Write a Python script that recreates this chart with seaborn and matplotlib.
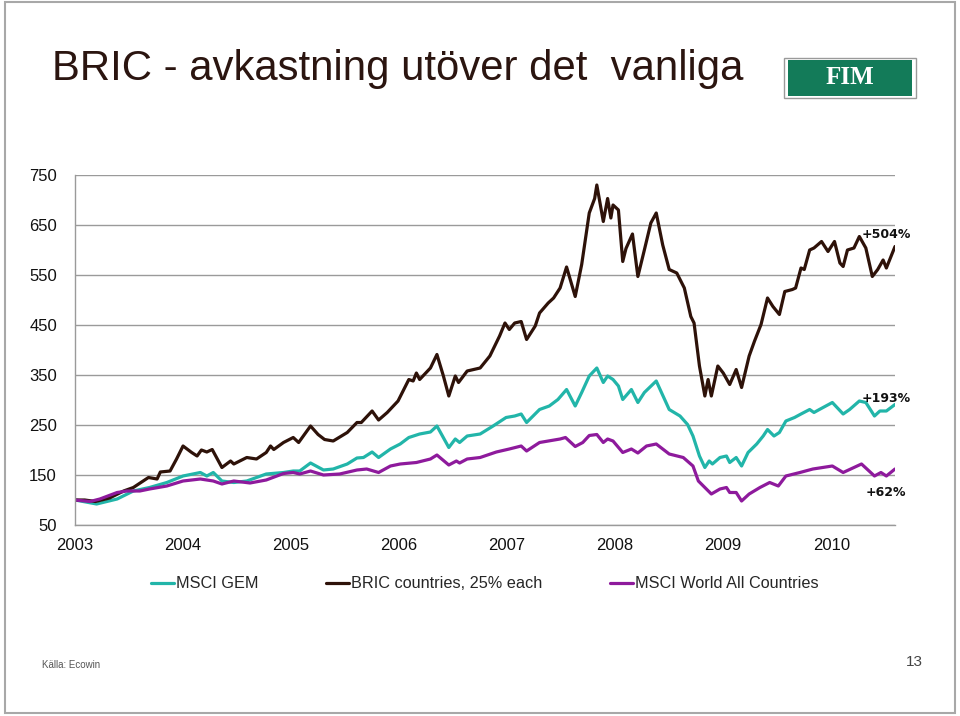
import pandas as pd
import numpy as np
import matplotlib
matplotlib.use("Agg")
import matplotlib.pyplot as plt
import seaborn as sns
from matplotlib.patches import Rectangle

# values (decimal year, index level, start = 100)
bric_t = [2003.00, 2003.09, 2003.19, 2003.32, 2003.45, 2003.54, 2003.68, 2003.76, 2003.79, 2003.88,
          2003.94, 2004.00, 2004.08, 2004.13, 2004.17, 2004.22, 2004.27, 2004.31, 2004.36, 2004.44,
          2004.47, 2004.59, 2004.68, 2004.77, 2004.81, 2004.84, 2004.93, 2005.02, 2005.07, 2005.18,
          2005.25, 2005.31, 2005.39, 2005.52, 2005.61, 2005.65, 2005.75, 2005.81, 2005.89, 2005.99,
          2006.09, 2006.13, 2006.16, 2006.19, 2006.29, 2006.35, 2006.41, 2006.46, 2006.52, 2006.55,
          2006.63, 2006.75, 2006.84, 2006.93, 2006.98, 2007.02, 2007.07, 2007.13, 2007.18, 2007.26,
          2007.30, 2007.38, 2007.43, 2007.49, 2007.55, 2007.63, 2007.69, 2007.76, 2007.81, 2007.83,
          2007.89, 2007.93, 2007.96, 2007.98, 2008.03, 2008.07, 2008.10, 2008.16, 2008.21, 2008.27,
          2008.33, 2008.38, 2008.44, 2008.50, 2008.57, 2008.64, 2008.70, 2008.73, 2008.78, 2008.83,
          2008.86, 2008.89, 2008.95, 2009.00, 2009.06, 2009.12, 2009.17, 2009.24, 2009.29, 2009.35,
          2009.41, 2009.46, 2009.52, 2009.57, 2009.64, 2009.67, 2009.72, 2009.75, 2009.80, 2009.84,
          2009.91, 2009.97, 2010.03, 2010.08, 2010.11, 2010.15, 2010.21, 2010.26, 2010.32, 2010.38,
          2010.43, 2010.48, 2010.51, 2010.59]
bric_v = [100, 100, 97, 104, 118, 125, 145, 142, 156, 158,
          182, 208, 195, 188, 200, 196, 201, 185, 165, 178,
          172, 185, 182, 195, 208, 201, 215, 225, 215, 248,
          231, 221, 218, 235, 255, 255, 278, 260, 275, 298,
          341, 338, 354, 341, 364, 391, 348, 308, 348, 335,
          358, 364, 388, 428, 454, 441, 454, 457, 421, 448,
          474, 494, 504, 524, 566, 507, 571, 674, 703, 730,
          657, 703, 664, 690, 680, 577, 603, 632, 547, 600,
          654, 674, 610, 561, 554, 524, 467, 454, 368, 308,
          341, 308, 368, 354, 331, 361, 325, 388, 418, 451,
          504, 487, 471, 517, 521, 524, 564, 561, 600, 604,
          617, 597, 617, 574, 567, 600, 604, 627, 604, 547,
          561, 580, 564, 607]

gem_t = [2003.00, 2003.20, 2003.39, 2003.54, 2003.69, 2003.85, 2004.00, 2004.16, 2004.22, 2004.28,
         2004.36, 2004.47, 2004.59, 2004.77, 2004.93, 2005.02, 2005.08, 2005.18, 2005.30, 2005.39,
         2005.52, 2005.61, 2005.67, 2005.75, 2005.81, 2005.92, 2006.01, 2006.09, 2006.19, 2006.29,
         2006.35, 2006.46, 2006.52, 2006.56, 2006.63, 2006.75, 2006.87, 2006.99, 2007.07, 2007.13,
         2007.18, 2007.30, 2007.39, 2007.47, 2007.55, 2007.63, 2007.69, 2007.76, 2007.83, 2007.89,
         2007.93, 2007.98, 2008.03, 2008.07, 2008.15, 2008.21, 2008.27, 2008.38, 2008.50, 2008.60,
         2008.67, 2008.72, 2008.78, 2008.83, 2008.87, 2008.90, 2008.97, 2009.03, 2009.06, 2009.12,
         2009.17, 2009.23, 2009.31, 2009.37, 2009.41, 2009.47, 2009.52, 2009.58, 2009.66, 2009.72,
         2009.80, 2009.84, 2009.89, 2010.01, 2010.11, 2010.17, 2010.26, 2010.32, 2010.40, 2010.45,
         2010.51, 2010.59]
gem_v = [100, 92, 102, 118, 125, 135, 148, 155, 148, 155,
         138, 135, 138, 152, 155, 158, 158, 174, 160, 162,
         172, 184, 185, 196, 185, 202, 212, 225, 232, 236,
         248, 205, 222, 215, 228, 232, 248, 265, 268, 272,
         255, 281, 288, 301, 321, 288, 315, 348, 364, 335,
         348, 341, 328, 301, 321, 295, 315, 338, 281, 268,
         251, 228, 188, 165, 178, 172, 185, 188, 175, 185,
         168, 195, 212, 228, 241, 228, 235, 258, 265, 272,
         281, 275, 281, 295, 272, 281, 298, 295, 268, 278,
         278, 291]

world_t = [2003.00, 2003.14, 2003.23, 2003.39, 2003.48, 2003.60, 2003.69, 2003.85, 2004.00, 2004.16,
           2004.28, 2004.36, 2004.47, 2004.62, 2004.77, 2004.93, 2005.02, 2005.08, 2005.18, 2005.30,
           2005.45, 2005.61, 2005.70, 2005.81, 2005.92, 2006.01, 2006.16, 2006.29, 2006.35, 2006.46,
           2006.53, 2006.56, 2006.63, 2006.75, 2006.90, 2007.02, 2007.13, 2007.18, 2007.30, 2007.49,
           2007.54, 2007.63, 2007.70, 2007.76, 2007.83, 2007.89, 2007.93, 2007.98, 2008.07, 2008.15,
           2008.21, 2008.29, 2008.38, 2008.50, 2008.63, 2008.72, 2008.77, 2008.83, 2008.89, 2008.97,
           2009.03, 2009.06, 2009.12, 2009.17, 2009.24, 2009.34, 2009.43, 2009.51, 2009.58, 2009.71,
           2009.83, 2010.01, 2010.11, 2010.28, 2010.40, 2010.46, 2010.51, 2010.59]
world_v = [100, 97, 102, 115, 118, 118, 122, 128, 138, 142,
           138, 132, 138, 134, 140, 153, 155, 152, 158, 150,
           152, 160, 162, 155, 168, 172, 175, 182, 190, 170,
           178, 174, 182, 185, 196, 202, 208, 198, 215, 222,
           225, 207, 215, 229, 231, 215, 222, 218, 195, 202,
           194, 208, 212, 192, 185, 168, 138, 125, 112, 122,
           125, 115, 115, 98, 112, 125, 135, 128, 148, 155,
           162, 168, 155, 172, 148, 155, 148, 162]

series_names = ["MSCI GEM", "BRIC countries, 25% each", "MSCI World All Countries"]
colors = ["#22b5a9", "#2e1209", "#8e1a9c"]
years = [2003, 2004, 2005, 2006, 2007, 2008, 2009, 2010]
yticks = [50, 150, 250, 350, 450, 550, 650, 750]
end_labels = ["+193%", "+504%", "+62%"]
end_label_y = [302, 632, 114]

df = pd.concat([
    pd.DataFrame({"t": gem_t, "v": gem_v, "serie": series_names[0]}),
    pd.DataFrame({"t": bric_t, "v": bric_v, "serie": series_names[1]}),
    pd.DataFrame({"t": world_t, "v": world_v, "serie": series_names[2]}),
])

sns.set_style("white")
plt.rcParams["font.family"] = ["Liberation Sans", "DejaVu Sans"]

fig = plt.figure(figsize=(9.6, 7.16), dpi=100)
ax = fig.add_axes([75/960, 1-525/716, 820/960, 350/716])

sns.lineplot(data=df, x="t", y="v", hue="serie", hue_order=series_names,
             palette=dict(zip(series_names, colors)), estimator=None, sort=True,
             linewidth=2.3, ax=ax)

ax.set_xlim(2003, 2010.59)
ax.set_ylim(50, 750)
ax.set_xticks(years)
ax.set_xticklabels([str(y) for y in years])
ax.set_yticks(yticks)
ax.set_xlabel("")
ax.set_ylabel("")
ax.grid(axis="y", color="#9a9a9a", linewidth=1.0)
ax.set_axisbelow(True)
for s in ["top", "right"]:
    ax.spines[s].set_visible(False)
for s in ["left", "bottom"]:
    ax.spines[s].set_color("#9a9a9a")
    ax.spines[s].set_linewidth(1.0)
ax.tick_params(axis="both", labelsize=12, colors="#9a9a9a", labelcolor="#111111",
               length=4, width=1.0, direction="out")
ax.tick_params(axis="y", pad=9)
ax.tick_params(axis="x", pad=5)

# end-of-line returns
for txt, yv in zip(end_labels, end_label_y):
    ax.text(2010.51, yv, txt, ha="center", va="center", fontsize=9, fontweight="bold",
            family="DejaVu Sans", color="#111111", clip_on=False)

handles, labels = ax.get_legend_handles_labels()
ax.get_legend().remove()
fig.legend(handles, labels, loc="center", bbox_to_anchor=(0.505, 1-584/716), ncol=3,
           frameon=False, fontsize=11.7, handlelength=1.4, handletextpad=0.1,
           columnspacing=4.2)

# title
fig.text(52/960, 1-69/716, "BRIC - avkastning utöver det  vanliga", fontsize=30.2,
         color="#2b1510", ha="left", va="center")

# FIM logo
logo = fig.add_axes([783/960, 1-99/716, 134/960, 42/716])
logo.set_xlim(0, 1)
logo.set_ylim(0, 1)
logo.axis("off")
logo.add_patch(Rectangle((0.004, 0.015), 0.992, 0.97, facecolor="white", edgecolor="#9a9a9a",
                         lw=1.0, clip_on=False))
logo.add_patch(Rectangle((0.035, 0.08), 0.93, 0.84, facecolor="#137b59", edgecolor="none"))
logo.text(0.5, 0.5, "FIM", color="white", fontsize=18, fontweight="bold",
          family=["Liberation Serif", "DejaVu Serif"], ha="center", va="center")

# footer
fig.text(42/960, 1-665/716, "Källa: Ecowin", fontsize=7, color="#555555", ha="left", va="center")
fig.text(923/960, 1-662/716, "13", fontsize=11, color="#444444", ha="right", va="center")

# slide frame
fig.patches.append(Rectangle((5/960, 3/716), 950/960, 711/716, transform=fig.transFigure,
                             fill=False, edgecolor="#a8a8a8", lw=1.5))

fig.savefig("out.png", dpi=100)
